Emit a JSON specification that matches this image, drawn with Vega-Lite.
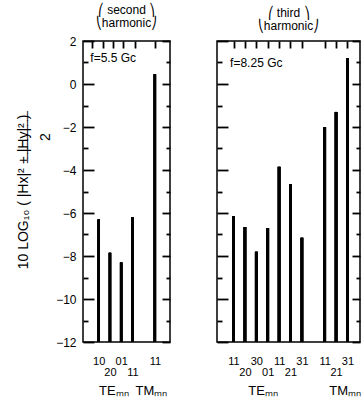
{
  "$schema": "https://vega.github.io/schema/vega-lite/v6.json",
  "padding": {"left": 15, "top": 3, "right": 0, "bottom": 0},
  "config": {
    "view": {"stroke": "black", "strokeWidth": 1.5},
    "font": "Liberation Sans",
    "axis": {"domain": false, "grid": false, "tickColor": "black", "tickWidth": 1.8, "tickOpacity": 1, "labelColor": "black", "titleColor": "black", "labelFont": "Liberation Sans", "titleFont": "Liberation Sans", "titleFontWeight": "normal", "zindex": 1},
    "concat": {"spacing": 37}
  },
  "datasets": {
    "second": [
      {"slot": 1, "mode": "TE", "label": "10", "value": -6.3},
      {"slot": 2, "mode": "TE", "label": "20", "value": -7.85},
      {"slot": 3, "mode": "TE", "label": "01", "value": -8.3},
      {"slot": 4, "mode": "TE", "label": "11", "value": -6.2},
      {"slot": 6, "mode": "TM", "label": "11", "value": 0.45}
    ],
    "third": [
      {"slot": 1, "mode": "TE", "label": "11", "value": -6.15},
      {"slot": 2, "mode": "TE", "label": "20", "value": -6.65},
      {"slot": 3, "mode": "TE", "label": "30", "value": -7.8},
      {"slot": 4, "mode": "TE", "label": "01", "value": -6.7},
      {"slot": 5, "mode": "TE", "label": "11", "value": -3.85},
      {"slot": 6, "mode": "TE", "label": "21", "value": -4.65},
      {"slot": 7, "mode": "TE", "label": "31", "value": -7.15},
      {"slot": 9, "mode": "TM", "label": "11", "value": -2.0},
      {"slot": 10, "mode": "TM", "label": "21", "value": -1.3},
      {"slot": 11, "mode": "TM", "label": "31", "value": 1.2}
    ]
  },
  "hconcat": [
    {
      "width": 87,
      "height": 301,
      "title": {"text": ["⎛ second ⎞", "⎝harmonic⎠"], "fontSize": 12, "fontWeight": "normal", "offset": 5, "lineHeight": 13, "color": "black"},
      "data": {"name": "second"},
      "layer": [
        {
          "mark": {"type": "rule", "strokeWidth": 2.5, "color": "black"},
          "encoding": {
            "x": {"field": "slot", "type": "quantitative", "scale": {"domain": [-0.4, 7.35], "nice": false, "zero": false},
              "axis": {"orient": "bottom", "values": [1, 2, 3, 4, 6], "ticks": false, "labelFontSize": 11, "labelPadding": 13, "labelLineHeight": 11, "labelOverlap": false, "title": null,
                "labelExpr": "datum.value == 1 ? '10' : datum.value == 2 ? ['', '20'] : datum.value == 3 ? '01' : datum.value == 4 ? ['', '11'] : datum.value == 6 ? '11' : ''"}},
            "y": {"field": "value", "type": "quantitative", "scale": {"domain": [-12, 2], "nice": false, "zero": false},
              "axis": {"orient": "left", "values": [-12, -10, -8, -6, -4, -2, 0, 2], "ticks": false, "labelFontSize": 12, "labelPadding": 7,
                "title": ["10 LOG₁₀ ( |Hx|² + |Hy|² )", "⠀⠀⠀⠀⠀⠀⠀⠀⠀⠀⠀‾‾‾‾‾‾‾‾‾‾‾", "⠀⠀⠀⠀⠀⠀⠀⠀⠀⠀⠀2"],
                "titleFontSize": 14, "titleLineHeight": 11, "titlePadding": 3}},
            "y2": {"datum": -12}
          }
        },
        {
          "mark": {"type": "rule", "strokeWidth": 2.5, "color": "black"},
          "encoding": {
            "x": {"field": "slot", "type": "quantitative", "scale": {"domain": [-0.4, 7.35], "nice": false, "zero": false}, "axis": {"orient": "top", "values": [0.4, 1.4, 2.3, 3.2, 4.2, 6], "ticks": true, "labels": true, "labelOpacity": 0, "labelFontSize": 1, "tickSize": 7, "offset": -7, "title": null}},
            "y": {"field": "value", "type": "quantitative", "scale": {"domain": [-12, 2], "nice": false, "zero": false}, "axis": {"orient": "left", "values": [-12, -10, -8, -6, -4, -2, 0, 2], "ticks": true, "labels": true, "labelOpacity": 0, "labelFontSize": 1, "tickSize": 11, "offset": -11, "title": null}},
            "y2": {"datum": -12}
          }
        },
        {
          "mark": {"type": "rule", "strokeWidth": 2.5, "color": "black"},
          "encoding": {
            "x": {"field": "slot", "type": "quantitative", "scale": {"domain": [-0.4, 7.35], "nice": false, "zero": false}, "axis": null},
            "y": {"field": "value", "type": "quantitative", "scale": {"domain": [-12, 2], "nice": false, "zero": false}, "axis": {"orient": "left", "values": [-11, -9, -7, -5, -3, -1, 1], "ticks": true, "labels": true, "labelOpacity": 0, "labelFontSize": 1, "tickSize": 5, "offset": -5, "title": null}},
            "y2": {"datum": -12}
          }
        },
        {
          "mark": {"type": "rule", "strokeWidth": 2.5, "color": "black"},
          "encoding": {
            "x": {"field": "slot", "type": "quantitative", "scale": {"domain": [-0.4, 7.35], "nice": false, "zero": false}, "axis": null},
            "y": {"field": "value", "type": "quantitative", "scale": {"domain": [-12, 2], "nice": false, "zero": false}, "axis": {"orient": "right", "values": [-12, -10, -8, -6, -4, -2, 0, 2], "ticks": true, "labels": true, "labelOpacity": 0, "labelFontSize": 1, "tickSize": 8, "offset": -8, "title": null}},
            "y2": {"datum": -12}
          }
        },
        {
          "mark": {"type": "rule", "strokeWidth": 2.5, "color": "black"},
          "encoding": {
            "x": {"field": "slot", "type": "quantitative", "scale": {"domain": [-0.4, 7.35], "nice": false, "zero": false}, "axis": null},
            "y": {"field": "value", "type": "quantitative", "scale": {"domain": [-12, 2], "nice": false, "zero": false}, "axis": {"orient": "right", "values": [-11, -9, -7, -5, -3, -1, 1], "ticks": true, "labels": true, "labelOpacity": 0, "labelFontSize": 1, "tickSize": 4, "offset": -4, "title": null}},
            "y2": {"datum": -12}
          }
        },
        {
          "data": {"values": [{"slot": 0.25, "value": 1.2, "text": "f=5.5 Gc"}]},
          "mark": {"type": "text", "align": "left", "baseline": "middle", "fontSize": 12, "color": "black"},
          "encoding": {
            "x": {"field": "slot", "type": "quantitative", "scale": {"domain": [-0.4, 7.35], "nice": false, "zero": false}, "axis": null},
            "y": {"field": "value", "type": "quantitative", "scale": {"domain": [-12, 2], "nice": false, "zero": false}, "axis": null},
            "text": {"field": "text"}
          }
        },
        {
          "data": {"values": [{"slot": 2.35, "value": -14.3, "text": "TEₘₙ"}, {"slot": 5.7, "value": -14.3, "text": "TMₘₙ"}]},
          "mark": {"type": "text", "align": "center", "baseline": "middle", "fontSize": 13, "color": "black", "clip": false},
          "encoding": {
            "x": {"field": "slot", "type": "quantitative", "scale": {"domain": [-0.4, 7.35], "nice": false, "zero": false}, "axis": null},
            "y": {"field": "value", "type": "quantitative", "scale": {"domain": [-12, 2], "nice": false, "zero": false}, "axis": null},
            "text": {"field": "text"}
          }
        }
      ],
      "resolve": {"scale": {"x": "independent", "y": "independent"}, "axis": {"x": "independent", "y": "independent"}}
    },
    {
      "width": 143,
      "height": 301,
      "title": {"text": ["⎛   third   ⎞", "⎝harmonic⎠"], "fontSize": 12, "fontWeight": "normal", "offset": 5, "lineHeight": 13, "color": "black"},
      "data": {"name": "third"},
      "layer": [
        {
          "mark": {"type": "rule", "strokeWidth": 2.8, "color": "black"},
          "encoding": {
            "x": {"field": "slot", "type": "quantitative", "scale": {"domain": [-0.45, 12.1], "nice": false, "zero": false},
              "axis": {"orient": "bottom", "values": [1, 2, 3, 4, 5, 6, 7, 9, 10, 11], "ticks": false, "labelFontSize": 11, "labelPadding": 13, "labelLineHeight": 11, "labelOverlap": false, "title": null,
                "labelExpr": "datum.value == 1 ? '11' : datum.value == 2 ? ['', '20'] : datum.value == 3 ? '30' : datum.value == 4 ? ['', '01'] : datum.value == 5 ? '11' : datum.value == 6 ? ['', '21'] : datum.value == 7 ? '31' : datum.value == 9 ? '11' : datum.value == 10 ? ['', '21'] : datum.value == 11 ? '31' : ''"}},
            "y": {"field": "value", "type": "quantitative", "scale": {"domain": [-12, 2], "nice": false, "zero": false},
              "axis": {"orient": "left", "values": [-12, -10, -8, -6, -4, -2, 0, 2], "ticks": true, "labels": true, "labelOpacity": 0, "labelFontSize": 1, "tickSize": 11, "offset": -11, "title": null}},
            "y2": {"datum": -12}
          }
        },
        {
          "mark": {"type": "rule", "strokeWidth": 2.8, "color": "black"},
          "encoding": {
            "x": {"field": "slot", "type": "quantitative", "scale": {"domain": [-0.45, 12.1], "nice": false, "zero": false}, "axis": {"orient": "top", "values": [1, 2, 3, 4, 5, 6, 7, 9, 10, 11], "ticks": true, "labels": true, "labelOpacity": 0, "labelFontSize": 1, "tickSize": 7, "offset": -7, "title": null}},
            "y": {"field": "value", "type": "quantitative", "scale": {"domain": [-12, 2], "nice": false, "zero": false}, "axis": {"orient": "left", "values": [-11, -9, -7, -5, -3, -1, 1], "ticks": true, "labels": true, "labelOpacity": 0, "labelFontSize": 1, "tickSize": 5, "offset": -5, "title": null}},
            "y2": {"datum": -12}
          }
        },
        {
          "mark": {"type": "rule", "strokeWidth": 2.8, "color": "black"},
          "encoding": {
            "x": {"field": "slot", "type": "quantitative", "scale": {"domain": [-0.45, 12.1], "nice": false, "zero": false}, "axis": null},
            "y": {"field": "value", "type": "quantitative", "scale": {"domain": [-12, 2], "nice": false, "zero": false}, "axis": {"orient": "right", "values": [-12, -10, -8, -6, -4, -2, 0, 2], "ticks": true, "labels": true, "labelOpacity": 0, "labelFontSize": 1, "tickSize": 8, "offset": -8, "title": null}},
            "y2": {"datum": -12}
          }
        },
        {
          "mark": {"type": "rule", "strokeWidth": 2.8, "color": "black"},
          "encoding": {
            "x": {"field": "slot", "type": "quantitative", "scale": {"domain": [-0.45, 12.1], "nice": false, "zero": false}, "axis": null},
            "y": {"field": "value", "type": "quantitative", "scale": {"domain": [-12, 2], "nice": false, "zero": false}, "axis": {"orient": "right", "values": [-11, -9, -7, -5, -3, -1, 1], "ticks": true, "labels": true, "labelOpacity": 0, "labelFontSize": 1, "tickSize": 4, "offset": -4, "title": null}},
            "y2": {"datum": -12}
          }
        },
        {
          "data": {"values": [{"slot": 0.7, "value": 1.0, "text": "f=8.25 Gc"}]},
          "mark": {"type": "text", "align": "left", "baseline": "middle", "fontSize": 12, "color": "black"},
          "encoding": {
            "x": {"field": "slot", "type": "quantitative", "scale": {"domain": [-0.45, 12.1], "nice": false, "zero": false}, "axis": null},
            "y": {"field": "value", "type": "quantitative", "scale": {"domain": [-12, 2], "nice": false, "zero": false}, "axis": null},
            "text": {"field": "text"}
          }
        },
        {
          "data": {"values": [{"slot": 3.6, "value": -14.3, "text": "TEₘₙ"}, {"slot": 10.8, "value": -14.3, "text": "TMₘₙ"}]},
          "mark": {"type": "text", "align": "center", "baseline": "middle", "fontSize": 13, "color": "black", "clip": false},
          "encoding": {
            "x": {"field": "slot", "type": "quantitative", "scale": {"domain": [-0.45, 12.1], "nice": false, "zero": false}, "axis": null},
            "y": {"field": "value", "type": "quantitative", "scale": {"domain": [-12, 2], "nice": false, "zero": false}, "axis": null},
            "text": {"field": "text"}
          }
        }
      ],
      "resolve": {"scale": {"x": "independent", "y": "independent"}, "axis": {"x": "independent", "y": "independent"}}
    }
  ]
}
